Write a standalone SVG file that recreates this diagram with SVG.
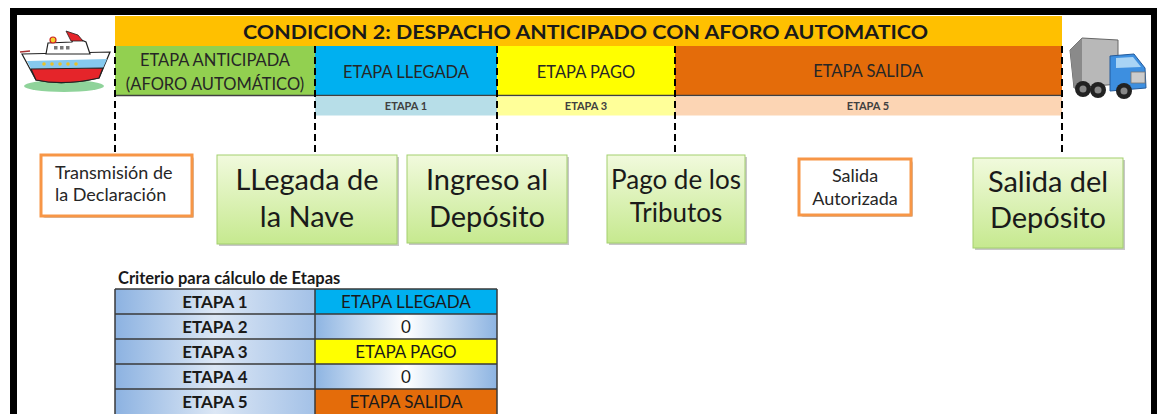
<svg xmlns="http://www.w3.org/2000/svg" width="1157" height="414" viewBox="0 0 1157 414">
<style>
text{font-family:Lato,"Liberation Sans",Arial,sans-serif;fill:#1a1a1a}
.stg{font-size:16.5px;text-anchor:middle;fill:#262626}
.sub{font-size:11px;text-anchor:middle;fill:#404040;font-weight:bold}
.big{font-size:29px;text-anchor:middle;fill:#1a1a1a}
.med{font-size:26px;text-anchor:middle;fill:#1a1a1a}
.sm{font-size:18px;fill:#262626}
.gbox{fill:url(#gg);stroke:#a3cf6f;stroke-width:1}
.obox{fill:#fff;stroke:#f79646;stroke-width:3}
.shd{fill:#000;opacity:0.22}
.dash{stroke:#000;stroke-width:2;stroke-dasharray:7 4;fill:none}
.tl{font-size:17px;font-weight:bold;text-anchor:middle;fill:#1a1a1a}
.tr{font-size:17px;text-anchor:middle;fill:#1a1a1a}
.grid{stroke:#3a3a3a;stroke-width:1.5;fill:none}
</style>
<defs>
<linearGradient id="gg" x1="0" y1="0" x2="0" y2="1">
<stop offset="0" stop-color="#f1fadd"/>
<stop offset="1" stop-color="#c6e98f"/>
</linearGradient>
<linearGradient id="lb" x1="0" y1="0" x2="1" y2="0">
<stop offset="0" stop-color="#8cb2e1"/>
<stop offset="0.5" stop-color="#dce7f5"/>
<stop offset="1" stop-color="#a3c1e7"/>
</linearGradient>
<linearGradient id="zb" x1="0" y1="0" x2="1" y2="0">
<stop offset="0" stop-color="#8db4e2"/>
<stop offset="0.5" stop-color="#ffffff"/>
<stop offset="1" stop-color="#8db4e2"/>
</linearGradient>
</defs>
<rect x="0" y="0" width="1157" height="414" fill="#fff"/>
<rect x="13.5" y="11.5" width="1141" height="430" fill="#fff" stroke="#000" stroke-width="7"/>

<g id="ship">
<ellipse cx="64" cy="86" rx="40" ry="6" fill="#8fd39a"/>
<path d="M22 54 L110 52 L99 78 Q64 86 36 80 Z" fill="#fff" stroke="#222" stroke-width="1.2"/>
<path d="M27 61 L107 59 L103 68 L31 69 Z" fill="#86c9ee"/>
<path d="M31 69 L103 68 L99 78 Q64 86 36 80 Z" fill="#e5252a" stroke="#222" stroke-width="1.2"/>
<circle cx="44" cy="64" r="1.8" fill="#e8c22a"/><circle cx="52" cy="64" r="1.8" fill="#e8c22a"/><circle cx="60" cy="64" r="1.8" fill="#e8c22a"/><circle cx="68" cy="64" r="1.8" fill="#e8c22a"/><circle cx="76" cy="64" r="1.8" fill="#e8c22a"/>
<path d="M46 54 L48 43 L72 42 L74 37 L86 42 L90 54 Z" fill="#fff" stroke="#222" stroke-width="1.2"/>
<rect x="54" y="46" width="3.5" height="3.5" fill="#777"/><rect x="60" y="46" width="3.5" height="3.5" fill="#777"/><rect x="66" y="46" width="3.5" height="3.5" fill="#777"/>
<path d="M66 31 L78 35 L83 41 L71 41 Z" fill="#e5252a" stroke="#222" stroke-width="0.8"/>
<circle cx="53" cy="40" r="3" fill="#f2d22a" stroke="#c22" stroke-width="1.2"/>
<path d="M20 52 L30 51" stroke="#a33" stroke-width="1.5"/>
</g>

<g id="truck">
<path d="M1070 50 L1082 38 L1118 40 L1118 84 L1074 88 Z" fill="#b8b8b8" stroke="#666" stroke-width="1"/>
<path d="M1070 50 L1082 38 L1082 84 L1074 88 Z" fill="#8a8a8a"/>
<path d="M1110 56 L1134 54 L1145 68 L1146 88 L1110 91 Z" fill="#3d8fe0" stroke="#245a9a" stroke-width="1"/>
<path d="M1116 58 L1133 57 L1141 67 L1116 68 Z" fill="#a9d4f5"/>
<rect x="1131" y="72" width="14" height="11" fill="#ccc" stroke="#777" stroke-width="0.8"/>
<circle cx="1083" cy="89" r="8" fill="#222"/><circle cx="1083" cy="89" r="3.5" fill="#888"/>
<circle cx="1098" cy="90" r="8" fill="#222"/><circle cx="1098" cy="90" r="3.5" fill="#888"/>
<circle cx="1124" cy="91" r="8" fill="#222"/><circle cx="1124" cy="91" r="3.5" fill="#888"/>
</g>

<g id="title">
<rect x="115" y="16" width="947" height="30" fill="#ffc000"/>
<text x="585.5" y="39" font-size="19" font-weight="bold" text-anchor="middle" textLength="685" lengthAdjust="spacingAndGlyphs">CONDICION 2: DESPACHO ANTICIPADO CON AFORO AUTOMATICO</text>
</g>

<g id="stages">
<rect x="115" y="46" width="200" height="49.5" fill="#92d050"/>
<rect x="315" y="46" width="182" height="49.5" fill="#00b0f0"/>
<rect x="497" y="46" width="178" height="49.5" fill="#ffff00"/>
<rect x="675" y="46" width="387" height="49.5" fill="#e46c0a"/>
<text class="stg" x="215" y="66">ETAPA ANTICIPADA</text>
<text class="stg" x="215" y="90">(AFORO AUTOMÁTICO)</text>
<text class="stg" x="406" y="78">ETAPA LLEGADA</text>
<text class="stg" x="586" y="78">ETAPA PAGO</text>
<text class="stg" x="868" y="77">ETAPA SALIDA</text>
<line x1="115" y1="95.5" x2="1062" y2="95.5" stroke="#404040" stroke-width="1.5"/>
</g>

<g id="substages">
<rect x="315" y="96.5" width="182" height="19" fill="#b7dee8"/>
<rect x="497" y="96.5" width="178" height="19" fill="#ffff99"/>
<rect x="675" y="96.5" width="387" height="19" fill="#fcd5b4"/>
<text class="sub" x="406" y="110">ETAPA 1</text>
<text class="sub" x="586" y="110">ETAPA 3</text>
<text class="sub" x="868" y="110">ETAPA 5</text>
</g>

<g id="connectors">
<line class="dash" x1="115" y1="46" x2="115" y2="152"/>
<line class="dash" x1="315" y1="46" x2="315" y2="152"/>
<line class="dash" x1="497" y1="46" x2="497" y2="152"/>
<line class="dash" x1="675" y1="46" x2="675" y2="152"/>
<line class="dash" x1="1062" y1="46" x2="1062" y2="152"/>
</g>

<g id="transmision">
<rect class="shd" x="43" y="157" width="151" height="61" rx="2"/>
<rect class="obox" x="41" y="155" width="151" height="61"/>
<text class="sm" x="55" y="179">Transmisión de</text>
<text class="sm" x="55" y="201">la Declaración</text>
</g>

<g id="llegada">
<rect class="shd" x="219" y="157" width="180" height="89"/>
<rect class="gbox" x="217" y="155" width="180" height="89"/>
<text class="big" x="307" y="190">LLegada de</text>
<text class="big" x="307" y="227">la Nave</text>
</g>

<g id="ingreso">
<rect class="shd" x="409" y="157" width="160" height="88"/>
<rect class="gbox" x="407" y="155" width="160" height="88"/>
<text class="big" x="487" y="190">Ingreso al</text>
<text class="big" x="487" y="227">Depósito</text>
</g>

<g id="pago">
<rect class="shd" x="609" y="157" width="138" height="88"/>
<rect class="gbox" x="607" y="155" width="138" height="88"/>
<text class="med" x="676" y="189">Pago de los</text>
<text class="med" x="676" y="222">Tributos</text>
</g>

<g id="salida-autorizada">
<rect class="shd" x="801" y="161" width="112" height="56" rx="2"/>
<rect class="obox" x="799" y="159" width="112" height="56"/>
<text class="sm" x="855" y="182" text-anchor="middle">Salida</text>
<text class="sm" x="855" y="205" text-anchor="middle">Autorizada</text>
</g>

<g id="salida-deposito">
<rect class="shd" x="975" y="160" width="150" height="90"/>
<rect class="gbox" x="973" y="158" width="150" height="90"/>
<text class="big" x="1048" y="192">Salida del</text>
<text class="big" x="1048" y="228">Depósito</text>
</g>

<g id="tabla">
<text x="118" y="284" font-size="16.5" font-weight="bold">Criterio para cálculo de Etapas</text>
<rect x="115" y="289" width="200" height="125" fill="url(#lb)"/>
<rect x="315" y="289" width="182" height="25" fill="#00b0f0"/>
<rect x="315" y="314" width="182" height="25" fill="url(#zb)"/>
<rect x="315" y="339" width="182" height="25" fill="#ffff00"/>
<rect x="315" y="364" width="182" height="25" fill="url(#zb)"/>
<rect x="315" y="389" width="182" height="25" fill="#e46c0a"/>
<path class="grid" d="M115 289 H497 M115 314 H497 M115 339 H497 M115 364 H497 M115 389 H497 M115 289 V414 M315 289 V414 M497 289 V414"/>
<text class="tl" x="215" y="308">ETAPA 1</text>
<text class="tl" x="215" y="333">ETAPA 2</text>
<text class="tl" x="215" y="358">ETAPA 3</text>
<text class="tl" x="215" y="383">ETAPA 4</text>
<text class="tl" x="215" y="408">ETAPA 5</text>
<text class="tr" x="406" y="308">ETAPA LLEGADA</text>
<text class="tr" x="406" y="333">0</text>
<text class="tr" x="406" y="358">ETAPA PAGO</text>
<text class="tr" x="406" y="383">0</text>
<text class="tr" x="406" y="408">ETAPA SALIDA</text>
</g>
</svg>
